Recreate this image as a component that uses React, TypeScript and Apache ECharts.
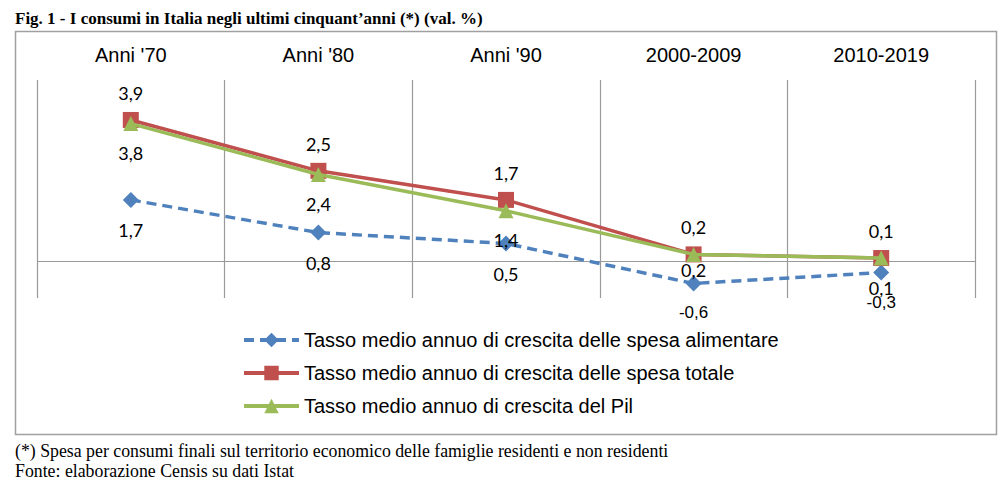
import React, { useEffect, useRef } from "react";
import * as echarts from "echarts";

const categories = ["Anni '70", "Anni '80", "Anni '90", "2000-2009", "2010-2019"];
const spesaAlimentare = [1.7, 0.8, 0.5, -0.6, -0.3];
const spesaTotale = [3.9, 2.5, 1.7, 0.2, 0.1];
const pil = [3.8, 2.4, 1.4, 0.2, 0.1];
const seriesNames = [
  "Tasso medio annuo di crescita delle spesa alimentare",
  "Tasso medio annuo di crescita delle spesa totale",
  "Tasso medio annuo di crescita del Pil",
];
const titleText = "Fig. 1 - I consumi in Italia negli ultimi cinquant\u2019anni (*) (val. %)";
const note1 = "(*) Spesa per consumi finali sul territorio economico delle famiglie residenti e non residenti";
const note2 = "Fonte: elaborazione Censis su dati Istat";

const fmt = (p: any) => String(p.value).replace(".", ",");

export default function App() {
  const ref = useRef<HTMLDivElement>(null);
  useEffect(() => {
    document.body.style.margin = "0";
    const chart = echarts.init(ref.current!, null, { renderer: "svg" });
    const labelFont = { fontFamily: "Lato", fontSize: 18, color: "#000" };
    const negLabel = { fontFamily: "Liberation Sans", fontSize: 17 };
    const alimData = spesaAlimentare.map((v) => (v < 0 ? { value: v, label: negLabel } : v));
    const pilData = pil.map((v, i) => (i === 3 ? { value: v, label: { offset: [0, -14] } } : v));
    chart.setOption({
      animation: false,
      backgroundColor: "#fff",
      grid: { left: 37, right: 27, top: 80, bottom: 187 },
      xAxis: {
        type: "category",
        data: categories,
        position: "top",
        axisLine: { show: false },
        axisTick: { show: false },
        axisLabel: { fontFamily: "Liberation Sans", fontSize: 20, color: "#000", margin: 15 },
        splitLine: { show: true, lineStyle: { color: "#9a9a9a", width: 1.2 } },
      },
      yAxis: {
        type: "value",
        min: -1,
        max: 5,
        interval: 1,
        axisLine: { show: false },
        axisTick: { show: false },
        axisLabel: { show: false },
        splitLine: { show: false },
      },
      legend: {
        orient: "vertical",
        left: 237,
        top: 325,
        itemWidth: 55,
        itemHeight: 18,
        itemGap: 13,
        lineStyle: { width: 4 },
        textStyle: { fontFamily: "Liberation Sans", fontSize: 20, color: "#000" },
        data: seriesNames,
      },
      graphic: [
        {
          type: "rect",
          shape: { x: 15.5, y: 31.5, width: 981, height: 403 },
          style: { fill: "none", stroke: "#a0a0a0", lineWidth: 1.5 },
          silent: true,
        },
        {
          type: "text",
          x: 15,
          y: 18,
          style: {
            text: titleText,
            fontFamily: "Liberation Serif",
            fontWeight: "bold",
            fontSize: 17,
            fill: "#000",
            verticalAlign: "middle",
          },
        },
        {
          type: "text",
          x: 15,
          y: 451,
          style: { text: note1, fontFamily: "Liberation Serif", fontSize: 17.8, fill: "#000", verticalAlign: "middle" },
        },
        {
          type: "text",
          x: 15,
          y: 471,
          style: { text: note2, fontFamily: "Liberation Serif", fontSize: 17.8, fill: "#000", verticalAlign: "middle" },
        },
      ],
      series: [
        {
          name: seriesNames[0],
          type: "line",
          data: alimData,
          color: "#4F81BD",
          symbol: "diamond",
          symbolSize: 16,
          lineStyle: { width: 3.5, type: [10, 6], color: "#4F81BD" },
          itemStyle: { color: "#4F81BD" },
          label: { show: true, position: "bottom", distance: 13, formatter: fmt, ...labelFont },
          markLine: {
            silent: true,
            symbol: "none",
            label: { show: false },
            lineStyle: { color: "#9a9a9a", width: 1.2, type: "solid" },
            data: [{ yAxis: 0 }],
            z: 1,
          },
          z: 2,
        },
        {
          name: seriesNames[1],
          type: "line",
          data: spesaTotale,
          color: "#C0504D",
          symbol: "rect",
          symbolSize: 16,
          lineStyle: { width: 3.5, color: "#C0504D" },
          itemStyle: { color: "#C0504D" },
          label: { show: true, position: "top", distance: 10, formatter: fmt, ...labelFont },
          z: 3,
        },
        {
          name: seriesNames[2],
          type: "line",
          data: pilData,
          color: "#9BBB59",
          symbol: "triangle",
          symbolSize: 15,
          lineStyle: { width: 3.5, color: "#9BBB59" },
          itemStyle: { color: "#9BBB59" },
          label: { show: true, position: "bottom", distance: 13, formatter: fmt, ...labelFont },
          z: 4,
        },
      ],
    });
    return () => chart.dispose();
  }, []);
  return <div ref={ref} style={{ width: 1002, height: 485 }} />;
}
